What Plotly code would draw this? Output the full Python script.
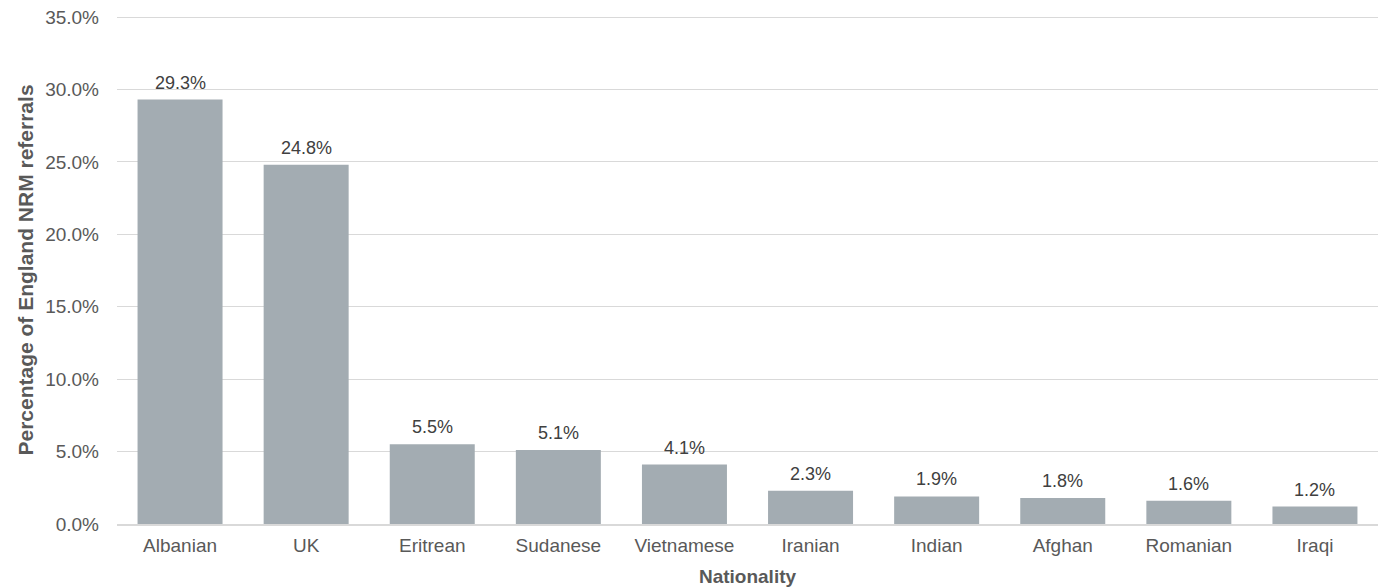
import plotly.graph_objects as go

nationalities = ["Albanian", "UK", "Eritrean", "Sudanese", "Vietnamese",
                 "Iranian", "Indian", "Afghan", "Romanian", "Iraqi"]
percentages = [29.3, 24.8, 5.5, 5.1, 4.1, 2.3, 1.9, 1.8, 1.6, 1.2]
y_ticks = [0, 5, 10, 15, 20, 25, 30, 35]
y_tick_labels = ["0.0%", "5.0%", "10.0%", "15.0%", "20.0%", "25.0%", "30.0%", "35.0%"]

FONT = "Liberation Sans, Arial, sans-serif"

fig = go.Figure(go.Bar(
    x=nationalities,
    y=percentages,
    marker=dict(color="#A3ACB2", line=dict(width=0)),
    hoverinfo="x+y",
))

for cat, v in zip(nationalities, percentages):
    fig.add_annotation(
        x=cat, y=v, text=f"{v:.1f}%", showarrow=False,
        yanchor="bottom", yshift=5,
        font=dict(family=FONT, size=18, color="#404040"),
    )

fig.update_layout(
    width=1378, height=587,
    margin=dict(l=117, r=0, t=16, b=63),
    paper_bgcolor="white", plot_bgcolor="white",
    bargap=0.326,
    showlegend=False,
    font=dict(family=FONT, size=19, color="#595959"),
    xaxis=dict(
        title=dict(text="<b>Nationality</b>", font=dict(family=FONT, size=19, color="#595959"), standoff=15),
        showgrid=False, ticks="", showline=True, linecolor="#D9D9D9", linewidth=2,
        tickfont=dict(family=FONT, size=19, color="#595959"),
        ticklabelstandoff=3,
    ),
    yaxis=dict(
        title=dict(text="<b>Percentage of England NRM referrals</b>", font=dict(family=FONT, size=21, color="#595959"), standoff=5),
        range=[0, 35.07], tickmode="array", tickvals=y_ticks, ticktext=y_tick_labels,
        showgrid=True, gridcolor="#D9D9D9", gridwidth=1,
        zeroline=False, showline=False, ticks="",
        tickfont=dict(family=FONT, size=19, color="#595959"),
        ticklabelstandoff=17,
    ),
)

fig.write_html("out.html", post_script="document.body.style.margin='0';",
               config={"displayModeBar": False})
